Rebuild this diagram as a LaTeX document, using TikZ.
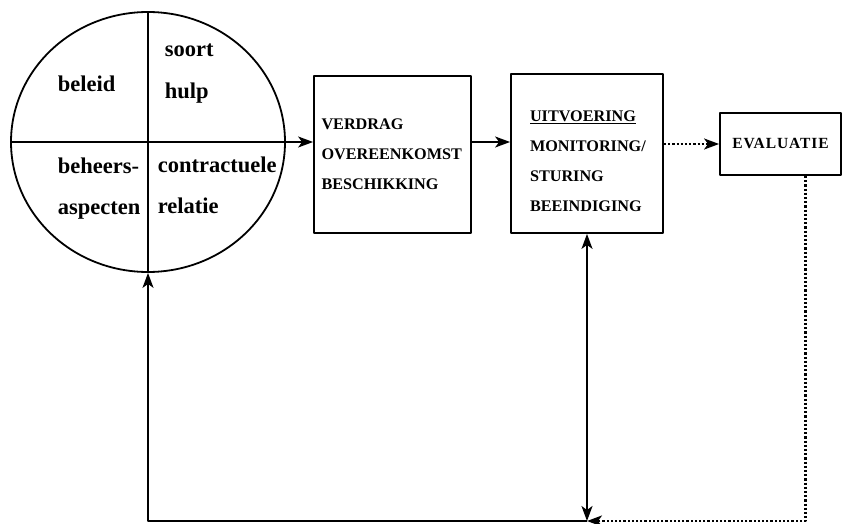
\documentclass[tikz,border=0pt]{standalone}
\usepackage{fontspec}
\setmainfont{Liberation Serif}
\usetikzlibrary{arrows.meta,shapes.geometric}
\begin{document}
\begin{tikzpicture}[x=1pt,y=-1pt,>={Stealth[length=15pt,width=11pt,inset=4pt]},line join=round,line width=1.8pt,
vak/.style={draw,rectangle,inner sep=0pt,font=\bfseries\fontsize{16.2}{30}\selectfont,align=left},
woord/.style={anchor=base west,inner sep=0pt,font=\bfseries\fontsize{22.5}{26}\selectfont},
stip/.style={line width=2.2pt,dash pattern=on 2.2pt off 2pt}]
\useasboundingbox (0,0) rectangle (848,524);
% cirkel met vier kwadranten
\node[draw,ellipse,inner sep=0pt,minimum width=274,minimum height=260] (kring) at (148,142) {};
\draw (kring.north)--(kring.south);
\node[woord] (beleid) at (57,92) {beleid};
\node[woord] (soort) at (164,57) {soort};
\node[woord] (hulp) at (164,99) {hulp};
\node[woord] (beheers) at (57,173) {beheers-};
\node[woord] (aspecten) at (57,214) {aspecten};
\node[woord] (contract) at (157,172) {contractuele};
\node[woord] (relatie) at (157,213) {relatie};
% blokken
\node[vak,minimum width=157,minimum height=157,text width=142] (verdrag) at (392.5,154.5) {VERDRAG\\OVEREENKOMST\\BESCHIKKING};
\node[vak,minimum width=152,minimum height=159,text width=114] (uitvoering) at (587,153.5) {\rule{0pt}{27pt}\underline{UITVOERING}\\MONITORING/\\STURING\\BEEINDIGING};
\node[vak,minimum width=121,minimum height=62,align=center,font=\bfseries\fontsize{15.5}{18}\selectfont\addfontfeature{LetterSpace=6}] (evaluatie) at (780.5,144) {EVALUATIE};
% verbindingen
\draw[->] (kring.west)--(kring.west-|verdrag.west);
\draw[->] (verdrag.east|-kring.west)--(uitvoering.west|-kring.west);
\draw[stip,->] (uitvoering.east|-evaluatie.west)--(evaluatie.west);
\path (148,521)coordinate(hoek) (uitvoering.south|-hoek)coordinate(knoop) ([xshift=25pt]evaluatie.south)coordinate(uitloop);
\draw[->] (knoop)--(hoek)--(kring.south);
\draw[<->] (uitvoering.south)--(knoop);
\draw[stip,->] (uitloop)|-(knoop);
\end{tikzpicture}
\end{document}
